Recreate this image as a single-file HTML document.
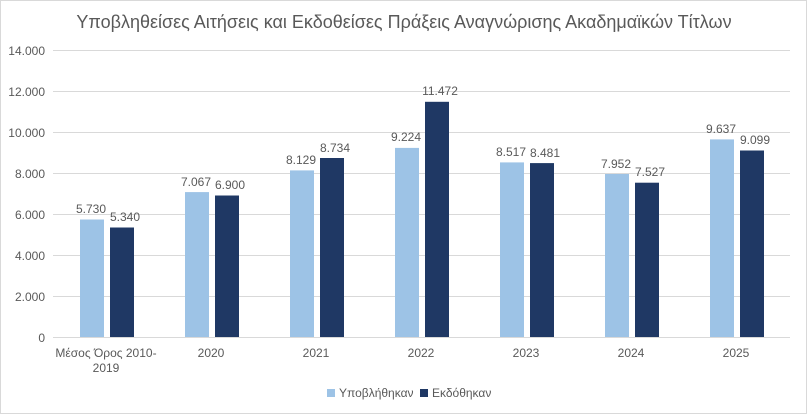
<!DOCTYPE html>
<html><head><meta charset="utf-8"><style>
body{margin:0;background:#fff}
svg{display:block}
text{font-family:"Liberation Sans","DejaVu Sans",sans-serif;fill:#595959}
</style></head><body>
<svg width="807" height="414" xmlns="http://www.w3.org/2000/svg">
<rect x="0.5" y="0.5" width="806" height="413" fill="#fff" stroke="#d9d9d9"/>
<text x="404" y="28" text-anchor="middle" font-size="18">Υποβληθείσες Αιτήσεις και Εκδοθείσες Πράξεις Αναγνώρισης Ακαδημαϊκών Τίτλων</text>
<g stroke="#d9d9d9" stroke-width="1">
<line x1="53" x2="790" y1="50.5" y2="50.5"/><line x1="53" x2="790" y1="91.5" y2="91.5"/>
<line x1="53" x2="790" y1="132.5" y2="132.5"/><line x1="53" x2="790" y1="173.5" y2="173.5"/>
<line x1="53" x2="790" y1="214.5" y2="214.5"/><line x1="53" x2="790" y1="255.5" y2="255.5"/>
<line x1="53" x2="790" y1="296.5" y2="296.5"/><line x1="53" x2="790" y1="337.5" y2="337.5"/>
</g>
<g font-size="12" text-anchor="end">
<text x="45" y="55">14.000</text><text x="45" y="96">12.000</text><text x="45" y="137">10.000</text>
<text x="45" y="178">8.000</text><text x="45" y="219">6.000</text><text x="45" y="260">4.000</text>
<text x="45" y="301">2.000</text><text x="45" y="342">0</text>
</g>
<g fill="#9dc3e6">
<rect x="80" y="219.5" width="24" height="117.5"/>
<rect x="185" y="192.1" width="24" height="144.9"/>
<rect x="290" y="170.4" width="24" height="166.6"/>
<rect x="395" y="147.9" width="24" height="189.1"/>
<rect x="500" y="162.4" width="24" height="174.6"/>
<rect x="605" y="174" width="24" height="163"/>
<rect x="710" y="139.4" width="24" height="197.6"/>
</g>
<g fill="#1f3864">
<rect x="110" y="227.5" width="24" height="109.5"/>
<rect x="215" y="195.5" width="24" height="141.5"/>
<rect x="320" y="158" width="24" height="179"/>
<rect x="425" y="101.8" width="24" height="235.2"/>
<rect x="530" y="163.1" width="24" height="173.9"/>
<rect x="635" y="182.7" width="24" height="154.3"/>
<rect x="740" y="150.5" width="24" height="186.5"/>
</g>
<g font-size="12" text-anchor="middle">
<text x="91" y="213">5.730</text><text x="125" y="221">5.340</text>
<text x="196" y="186">7.067</text><text x="230" y="189">6.900</text>
<text x="301" y="164">8.129</text><text x="335" y="152">8.734</text>
<text x="406" y="141">9.224</text><text x="440" y="95">11.472</text>
<text x="511" y="156">8.517</text><text x="545" y="157">8.481</text>
<text x="616" y="168">7.952</text><text x="650" y="176">7.527</text>
<text x="721" y="133">9.637</text><text x="755" y="144">9.099</text>
</g>
<g font-size="12" text-anchor="middle">
<text x="106" y="357">Μέσος Όρος 2010-</text><text x="106" y="372">2019</text>
<text x="211" y="357">2020</text><text x="316" y="357">2021</text><text x="421" y="357">2022</text>
<text x="526" y="357">2023</text><text x="631" y="357">2024</text><text x="736" y="357">2025</text>
</g>
<rect x="327" y="389" width="8" height="8" fill="#9dc3e6"/>
<text x="339" y="397" font-size="12">Υποβλήθηκαν</text>
<rect x="420" y="389" width="8" height="8" fill="#1f3864"/>
<text x="432" y="397" font-size="12">Εκδόθηκαν</text>
</svg>
</body></html>
